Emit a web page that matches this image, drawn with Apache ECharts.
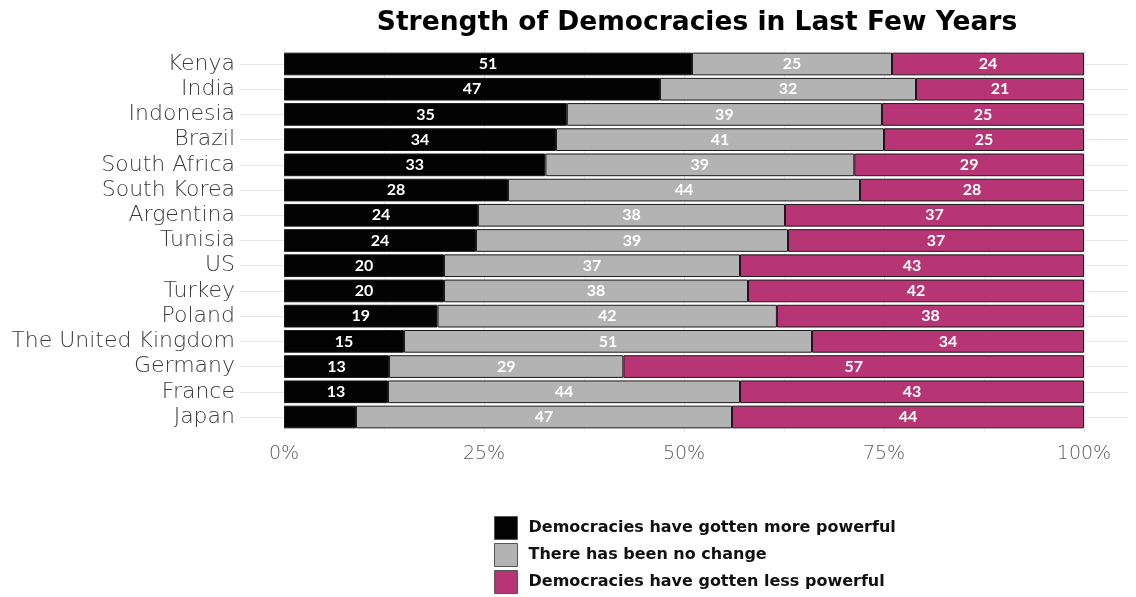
<!DOCTYPE html>
<html><head><meta charset="utf-8">
<script src="https://cdn.jsdelivr.net/npm/echarts@6/dist/echarts.min.js"></script>
<style>html,body{margin:0;padding:0;background:#fff}#c{width:1136px;height:597px}</style>
</head><body><div id="c"></div>
<script>
const countries = ['Kenya','India','Indonesia','Brazil','South Africa','South Korea','Argentina','Tunisia','US','Turkey','Poland','The United Kingdom','Germany','France','Japan'];
const morePowerful = [51,47,35,34,33,28,24,24,20,20,19,15,13,13,9];
const noChange = [25,32,39,41,39,44,38,39,37,38,42,51,29,44,47];
const lessPowerful = [24,21,25,25,29,28,37,37,43,42,38,34,57,43,44];
const seriesNames = ['Democracies have gotten more powerful','There has been no change','Democracies have gotten less powerful'];
const xTicks = [0,25,50,75,100];

const raw = [morePowerful, noChange, lessPowerful];
const totals = countries.map((_, i) => morePowerful[i] + noChange[i] + lessPowerful[i]);
const colors = ['#030303', '#b3b3b3', '#b83575'];
const FONT = 'Lato';
const WIDE = 'DejaVu Sans';

const chart = echarts.init(document.getElementById('c'), null, {renderer: 'canvas'});
const W = 1136, H = 597;
const px0 = 284, px1 = 1084;
const rowTop = 64, rowBot = 417;
const step = (rowBot - rowTop) / (countries.length - 1);

const series = raw.map((arr, s) => ({
  name: seriesNames[s],
  type: 'bar',
  stack: 'all',
  xAxisIndex: 0, yAxisIndex: 0,
  barCategoryGap: '10%',
  itemStyle: {color: colors[s], borderColor: '#1a1a1a', borderWidth: 1},
  label: {
    show: true, position: 'inside', color: '#fff', fontFamily: FONT, fontWeight: 'bold', fontSize: 16,
    formatter: p => arr[p.dataIndex] >= 10 ? String(arr[p.dataIndex]) : ''
  },
  data: arr.map((v, i) => v / totals[i] * 100)
}));

chart.setOption({
  animation: false,
  title: {
    text: 'Strength of Democracies in Last Few Years',
    left: 692, top: 5, textAlign: 'center',
    textStyle: {fontFamily: WIDE, fontWeight: 'bold', fontSize: 26.5, color: '#000'}
  },
  legend: {
    orient: 'vertical', left: 494, top: 516, height: 81, padding: 0,
    itemWidth: 23, itemHeight: 23, itemGap: 3,
    icon: 'rect',
    itemStyle: {borderColor: '#555', borderWidth: 1},
    textStyle: {fontFamily: WIDE, fontWeight: 'bold', fontSize: 16, color: '#111', padding: [0, 0, 0, 6]},
    data: seriesNames
  },
  grid: [
    {left: px0, right: W - px1, top: rowTop - step * 0.5, bottom: H - (rowBot + step * 0.5), containLabel: false},
    {left: 240, right: 8, top: rowTop, bottom: H - rowBot},
    {left: px0, right: W - px1, top: rowTop - step * 0.6, bottom: H - (rowBot + step * 0.6)}
  ],
  xAxis: [
    {gridIndex: 0, type: 'value', min: 0, max: 100, show: false},
    {gridIndex: 1, type: 'value', min: 0, max: 1, show: false},
    {gridIndex: 2, type: 'value', min: 0, max: 100, interval: 25,
      axisLine: {show: false}, axisTick: {show: false},
      axisLabel: {fontFamily: WIDE, fontWeight: 200, fontSize: 19, color: '#5a5a5a', margin: 12,
        formatter: v => xTicks.includes(v) ? v + '%' : ''},
      splitLine: {show: true, lineStyle: {color: '#e6e6e6', width: 1}},
      minorTick: {show: false, splitNumber: 2},
      minorSplitLine: {show: true, lineStyle: {color: '#f0f0f0', width: 1}}
    }
  ],
  yAxis: [
    {gridIndex: 0, type: 'category', inverse: true, data: countries,
      axisLine: {show: false}, axisTick: {show: false},
      axisLabel: {interval: 0, fontFamily: WIDE, fontWeight: 200, fontSize: 22, color: '#3a3a3a', margin: 49, padding: [3, 0, 0, 0]},
      splitLine: {show: false}
    },
    {gridIndex: 1, type: 'category', inverse: true, data: countries, boundaryGap: false,
      axisLine: {show: false}, axisTick: {show: false}, axisLabel: {show: false},
      splitLine: {show: true, lineStyle: {color: '#e6e6e6', width: 1}}
    },
    {gridIndex: 2, type: 'value', min: 0, max: 1, show: false}
  ],
  series: series
});
</script></body></html>
